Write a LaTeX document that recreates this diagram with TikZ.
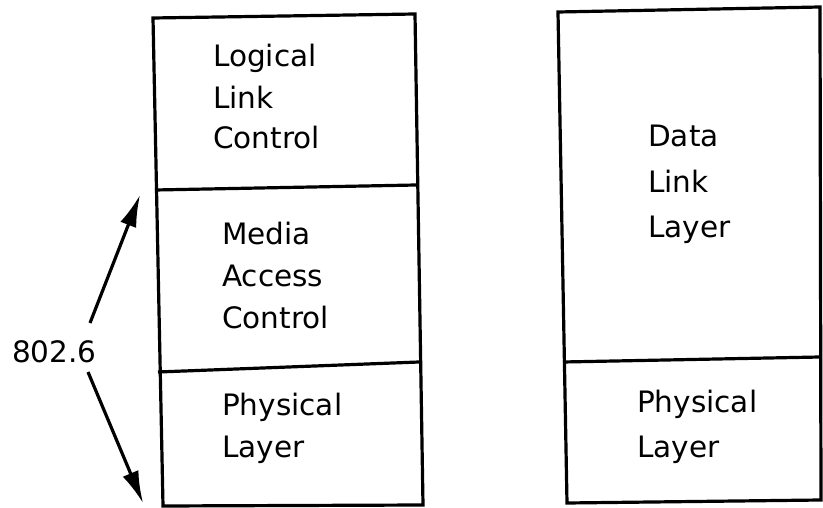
\documentclass[tikz,border=0pt]{standalone}
\usepackage{fontspec}
\setmainfont{DejaVu Sans}
\usetikzlibrary{arrows.meta}
\begin{document}
\begin{tikzpicture}[x=1pt,y=-1pt,
  frame/.style={line width=3.2pt,line join=miter},
  lbl/.style={anchor=base west,inner sep=0pt,font=\fontsize{29.5}{41.5}\selectfont},
  arr/.style={line width=3.2pt,-{Latex[length=32pt,width=17pt]}}]
\useasboundingbox (0,0) rectangle (823,508);
% left stack
\draw[frame] (153,18) -- (415,14) -- (423,505) -- (163,506) -- cycle;
\draw[frame] (155,190) -- (416,185);
\draw[frame] (158,372) -- (419,362);
% right stack
\draw[frame] (558,12) -- (820,7) -- (821,500) -- (567,503) -- cycle;
\draw[frame] (563,362) -- (820,357);
% texts left
\node[lbl] (llc1) at (213,67) {Logical};
\node[lbl] (llc2) at (213,109) {Link};
\node[lbl] (llc3) at (213,149) {Control};
\node[lbl] (mac1) at (222,245) {Media};
\node[lbl] (mac2) at (222,287) {Access};
\node[lbl] (mac3) at (222,328) {Control};
\node[lbl] (phl1) at (222,415) {Physical};
\node[lbl] (phl2) at (222,457) {Layer};
% texts right
\node[lbl] (dll1) at (648,147) {Data};
\node[lbl] (dll2) at (648,193) {Link};
\node[lbl] (dll3) at (648,238) {Layer};
\node[lbl] (phr1) at (637,412) {Physical};
\node[lbl] (phr2) at (637,457) {Layer};
% label and arrows
\node[lbl] (std) at (12,362) {802.6};
\coordinate (upS) at (90,323);
\coordinate (upT) at (140,195);
\coordinate (dnS) at (88,372);
\coordinate (dnT) at (143,503);
\draw[arr] (upS) -- (upT);
\draw[arr] (dnS) -- (dnT);
\end{tikzpicture}
\end{document}
